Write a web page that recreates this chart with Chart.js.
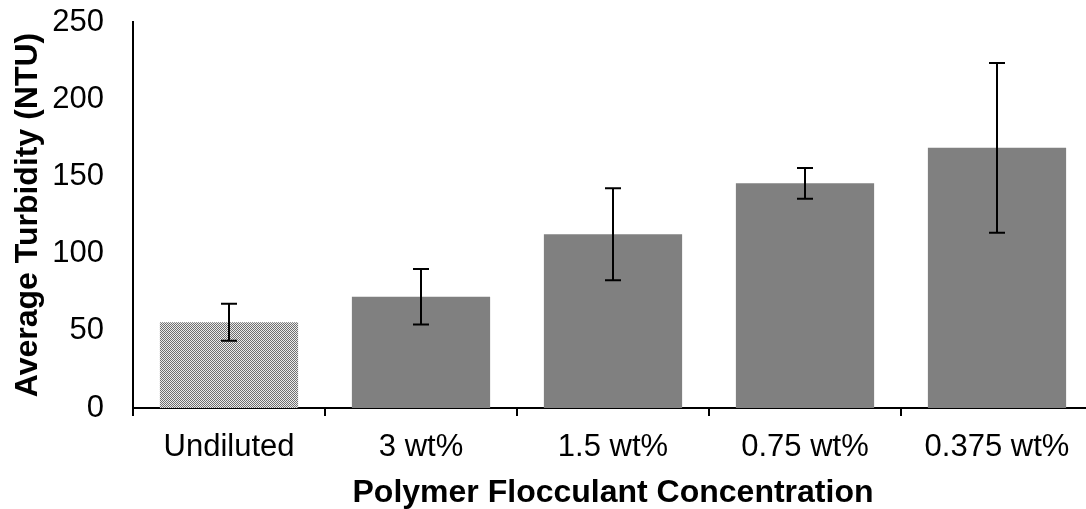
<!DOCTYPE html>
<html>
<head>
<meta charset="utf-8">
<script src="https://cdn.jsdelivr.net/npm/chart.js@4.4.1/dist/chart.umd.min.js"></script>
<style>
  html, body { margin: 0; padding: 0; background: #fff; overflow: hidden; }
  .wrap { width: 1094px; height: 509px; position: relative; }
</style>
</head>
<body>
<div class="wrap"><canvas id="myChart"></canvas></div>
<script>
const categories = ['Undiluted', '3 wt%', '1.5 wt%', '0.75 wt%', '0.375 wt%'];
const turbidity = [55.5, 72, 112.5, 145.5, 168.5];
const turbidityErr = [12, 18, 29.8, 10, 55];
const yTicks = [0, 50, 100, 150, 200, 250];

// dotted hatch fill for the undiluted bar
const makeHatch = () => {
    const tile = document.createElement('canvas');
    tile.width = 4;
    tile.height = 4;
    const t = tile.getContext('2d');
    t.fillStyle = '#ececec';
    t.fillRect(0, 0, 4, 4);
    t.fillStyle = '#707070';
    for (let r = 0; r < 4; r++) {
        t.fillRect(r % 4, r, 1, 1);
        t.fillRect((r + 2) % 4, r, 1, 1);
    }
    return t.createPattern(tile, 'repeat');
};

const ctx = document.getElementById('myChart');
const hatch = makeHatch();

const errorBars = {
    id: 'errorBars',
    afterDatasetsDraw(chart) {
        const c = chart.ctx;
        const y = chart.scales.y;
        const meta = chart.getDatasetMeta(0);
        c.save();
        c.strokeStyle = '#000';
        c.lineWidth = 2;
        meta.data.forEach((bar, i) => {
            const top = y.getPixelForValue(turbidity[i] + turbidityErr[i]);
            const bottom = y.getPixelForValue(turbidity[i] - turbidityErr[i]);
            const x = Math.round(bar.x);
            c.beginPath();
            c.moveTo(x, top);
            c.lineTo(x, bottom);
            c.moveTo(x - 8, top);
            c.lineTo(x + 8, top);
            c.moveTo(x - 8, bottom);
            c.lineTo(x + 8, bottom);
            c.stroke();
        });
        c.restore();
    }
};

new Chart(ctx, {
    type: 'bar',
    data: {
        labels: categories,
        datasets: [{
            data: turbidity,
            backgroundColor: categories.map((c, i) => i === 0 ? hatch : '#808080'),
            borderWidth: 0,
            categoryPercentage: 1,
            barPercentage: 0.72
        }]
    },
    options: {
        responsive: true,
        maintainAspectRatio: false,
        animation: false,
        devicePixelRatio: 1,
        layout: { padding: { top: 22, right: 1, bottom: 0, left: 0 } },
        plugins: {
            legend: { display: false },
            tooltip: { enabled: false }
        },
        scales: {
            x: {
                grid: {
                    display: true,
                    drawOnChartArea: false,
                    drawTicks: true,
                    tickLength: 8,
                    offset: true,
                    color: '#000',
                    lineWidth: 2
                },
                border: { display: true, color: '#000', width: 2 },
                ticks: {
                    color: '#000',
                    padding: 13,
                    maxRotation: 0,
                    font: { family: 'Liberation Sans, Arial', size: 31 }
                },
                title: {
                    display: true,
                    text: 'Polymer Flocculant Concentration',
                    color: '#000',
                    padding: { top: 0, bottom: -3 },
                    font: { family: 'Liberation Sans, Arial', size: 32, weight: 'bold' }
                },
                afterFit(scale) {
                    scale.height = 101;
                    scale.paddingLeft = 0;
                    scale.paddingRight = 0;
                }
            },
            y: {
                min: 0,
                max: 250,
                afterBuildTicks(scale) { scale.ticks = yTicks.map(v => ({ value: v })); },
                grid: { display: false, drawTicks: false },
                border: { display: true, color: '#000', width: 2 },
                ticks: {
                    color: '#000',
                    padding: 29,
                    font: { family: 'Liberation Sans, Arial', size: 31 }
                },
                title: {
                    display: true,
                    text: 'Average Turbidity (NTU)',
                    color: '#000',
                    padding: { top: 9, bottom: 0 },
                    font: { family: 'Liberation Sans, Arial', size: 32, weight: 'bold' }
                },
                afterFit(scale) {
                    scale.width = 133;
                    scale.paddingTop = 0;
                    scale.paddingBottom = 0;
                }
            }
        }
    },
    plugins: [errorBars]
});
</script>
</body>
</html>
